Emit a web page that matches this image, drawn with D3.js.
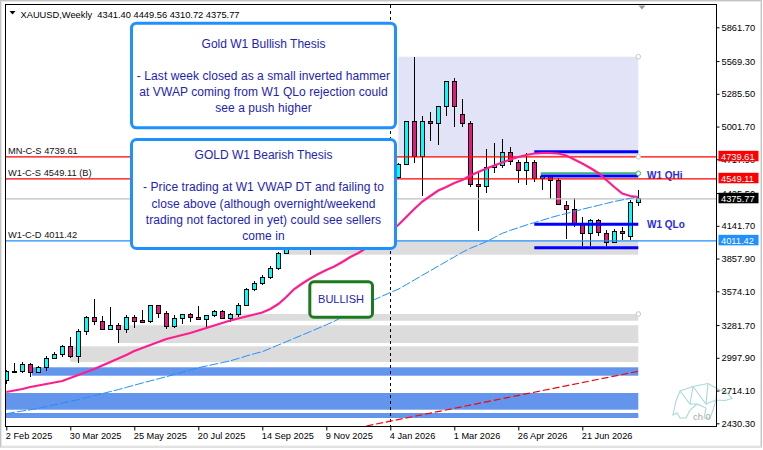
<!DOCTYPE html>
<html><head><meta charset="utf-8">
<script src="https://cdn.jsdelivr.net/npm/d3@7"></script>
<style>
body{margin:0;background:#fff}
svg{display:block}
text{font-family:"Liberation Sans",Arial,sans-serif}
</style>
</head><body>
<svg id="chart" width="763" height="450"></svg>
<script>
// ---------------- DATA ----------------
const symbol = "XAUUSD", period = "Weekly";
const dateLabels = ["2 Feb 2025","30 Mar 2025","25 May 2025","20 Jul 2025","14 Sep 2025","9 Nov 2025","4 Jan 2026","1 Mar 2026","26 Apr 2026","21 Jun 2026"];
const dateTickIdx = [0,8,16,24,32,40,48,56,64,72];
const priceTicks = [5861.70,5569.30,5285.50,5001.70,4717.90,4425.50,4141.70,3857.90,3574.10,3281.70,2997.90,2714.10,2430.30];

const opens  = [2800,2882,2881,2938,2872,2915,2994,3028,3094,3008,3224,3349,3311,3245,3282,3245,3349,3320,3314,3453,3383,3267,3340,3371,3349,3331,3366,3403,3337,3377,3453,3591,3643,3695,3770,3905,4020,4100,4060,4200,4280,4350,4300,4380,4440,4400,4460,4530,4500,4560,4675,5044,4740,5044,5024,5174,5394,5108,5030,4501,4480,4649,4668,4779,4688,4619,4688,4553,4567,4538,4319,4285,4163,4071,4192,4077,4001,4094,4053,4341.40];
const highs  = [2892,2950,2962,2955,2927,3013,3051,3109,3175,3245,3360,3505,3360,3441,3297,3369,3366,3412,3455,3455,3406,3366,3380,3383,3444,3366,3412,3412,3389,3470,3603,3661,3718,3793,3912,4050,4130,4160,4230,4310,4420,4380,4400,4470,4480,4490,4560,4580,4600,4690,5050,5607,5093,5130,5180,5400,5425,5238,5050,4597,4807,4856,4891,4827,4712,4770,4712,4582,4582,4553,4360,4380,4215,4200,4200,4105,4111,4134,4365,4449.56];
const lows   = [2771,2863,2869,2834,2863,2881,2985,3002,2994,2955,3195,3282,3239,3239,3124,3210,3254,3302,3297,3340,3250,3256,3291,3311,3331,3262,3349,3331,3308,3354,3447,3579,3631,3683,3762,3905,3990,4000,3890,4150,4240,4200,4260,4330,4350,4370,4420,4460,4440,4545,4665,4683,4402,4879,4842,5096,5000,5000,4480,4099,4423,4602,4640,4668,4510,4495,4524,4456,4371,4322,4025,4134,3967,3967,4053,3967,3990,4018,4018,4310.72];
const closes = [2878,2879,2938,2872,2915,2993,3028,3094,3008,3224,3345,3311,3245,3282,3245,3349,3314,3316,3453,3380,3267,3340,3371,3349,3331,3366,3403,3337,3377,3455,3591,3643,3695,3770,3903,4020,4100,4060,4200,4280,4350,4300,4380,4440,4400,4460,4530,4500,4560,4675,5044,4740,5044,5024,5174,5394,5174,5030,4501,4484,4649,4668,4779,4697,4619,4688,4553,4567,4532,4322,4285,4157,4071,4192,4082,4001,4090,4071,4342,4375.77];

// moving average (pink) and VWAP (blue dashed)
const maValues = [2701.6,2714.6,2727.6,2744.9,2757.9,2770.9,2783.9,2796.9,2822.9,2848.9,2874.9,2900.9,2931.2,2961.5,2991.8,3022.2,3056.8,3082.8,3108.8,3134.8,3160.8,3178.1,3195.5,3212.8,3234.5,3256.1,3277.8,3299.5,3321.1,3338.5,3355.8,3373.1,3390.4,3420.8,3464.1,3524.8,3594.1,3641.7,3685.0,3724.0,3758.7,3789.0,3828.0,3871.4,3906.0,3949.3,3992.7,4044.6,4096.6,4148.6,4217.9,4287.3,4352.3,4399.9,4447.6,4477.9,4512.5,4538.6,4577.5,4607.9,4638.2,4664.2,4690.2,4716.2,4737.8,4755.2,4768.2,4772.5,4772.5,4768.2,4750.8,4716.2,4681.5,4642.5,4599.2,4538.6,4477.9,4421.6,4399.9,4391.2];
const vwapValues = [2513.5,2525.7,2536.9,2547.3,2560.3,2575.9,2590.7,2605.4,2620.1,2635.7,2653.0,2670.4,2687.7,2705.0,2722.4,2741.4,2760.5,2779.5,2797.7,2815.9,2834.1,2853.2,2873.1,2892.2,2912.1,2926.8,2941.6,2956.3,2971.9,2991.8,3013.5,3033.4,3050.8,3080.2,3108.8,3137.4,3166.9,3195.5,3224.9,3254.4,3283.9,3314.2,3353.2,3392.2,3431.2,3470.2,3501.4,3532.6,3563.8,3592.4,3632.2,3672.1,3712.8,3752.7,3792.5,3832.4,3872.2,3912.1,3946.7,3975.3,4004.0,4040.3,4076.3,4101.8,4125.2,4148.6,4169.4,4190.2,4211.8,4230.9,4248.3,4266.5,4284.7,4302.0,4318.4,4335.8,4352.2,4366.1,4380.0,4393.8];

// horizontal levels
const levelPrices = [4739.61, 4549.11, 4375.77, 4011.42];
const levelNames  = ["MN-C-S 4739.61", "W1-C-S 4549.11 (B)", "", "W1-C-D 4011.42"];

// zones (top price, bottom price, start bar) ending at last bar
const zoneTops    = [5607, 4011.42, 3377.4, 3279.5, 3097.6, 2915.6, 2692.9, 2519.6];
const zoneBottoms = [4739.61, 3891.3, 3319.4, 3126.2, 2961.6, 2842.8, 2548.2, 2476.3];
const zoneStarts  = [49, 34.5, 28.2, 14, 8, 3.2, -1, -1];

// quarterly levels (W1 QHi / QLo)
const qPrices = [4783.8, 4573.2, 4154.7, 3952.0];
const qStarts = [66, 66.8, 66, 66];
const greenLevel = 4596.6, greenStart = 66.8;
const qLabels = [{text:"W1 QHi", price:4573.2},{text:"W1 QLo", price:4154.7}];

// trend line (red dashed)
const trendIdx = [45, 79];
const trendPrices = [2407, 2881];

const separatorIdx = 48;
const lastIdx = 79;

const bullishLines = ["Gold W1 Bullish Thesis", "", "- Last week closed as a small inverted hammer", "at VWAP coming from W1 QLo rejection could", "see a push higher"];
const bearishLines = ["GOLD W1 Bearish Thesis", "", "- Price trading at W1 VWAP DT and failing to", "close above (although overnight/weekend", "trading not factored in yet) could see sellers", "come in"];
const signalText = "BULLISH";

// ---------------- DRAW ----------------
const svg = d3.select("#chart");
const L = 6, R = 716, T = 5, B = 426;
const x = d3.scaleLinear().domain([0, 79]).range([6.3, 638.3]);
const y = d3.scaleLinear().domain([2407.0, 6055.0]).range([B, T]);
const f2 = d3.format(".2f");

// outer window frame
svg.append("rect").attr("x",0.5).attr("y",0.5).attr("width",761).attr("height",446.5)
  .attr("fill","#fff").attr("stroke","#c4c4c4");
svg.append("rect").attr("x",1.5).attr("y",1.5).attr("width",759).attr("height",444.5)
  .attr("fill","none").attr("stroke","#e6e6e6");

svg.append("defs").append("clipPath").attr("id","clip")
  .append("rect").attr("x",L).attr("y",T).attr("width",R-L).attr("height",B-T);
const g = svg.append("g").attr("clip-path","url(#clip)");

// zones
const zoneColors = ["#e3e3f7","#dcdcdc","#dcdcdc","#dcdcdc","#dcdcdc","#6495ed","#6495ed","#6495ed"];
zoneTops.forEach((t,k)=>{
  g.append("rect").attr("x",x(zoneStarts[k])).attr("y",y(t))
   .attr("width",x(lastIdx)-x(zoneStarts[k])).attr("height",y(zoneBottoms[k])-y(t))
   .attr("fill",zoneColors[k]);
});

// period separator
g.append("line").attr("x1",Math.round(x(separatorIdx))+0.5).attr("x2",Math.round(x(separatorIdx))+0.5)
  .attr("y1",T).attr("y2",B).attr("stroke","#000").attr("stroke-dasharray","3,3");

// trend line
g.append("line").attr("x1",x(trendIdx[0])).attr("y1",y(trendPrices[0]))
  .attr("x2",x(trendIdx[1])).attr("y2",y(trendPrices[1]))
  .attr("stroke","#ff0000").attr("stroke-width",1.2).attr("stroke-dasharray","7,3");

// candles
const idx = d3.range(opens.length);
const cg = g.append("g").attr("shape-rendering","crispEdges");
idx.forEach(i=>{
  const cx = Math.round(x(i));
  cg.append("line").attr("x1",cx+0.5).attr("x2",cx+0.5)
    .attr("y1",y(highs[i])).attr("y2",y(lows[i])).attr("stroke","#000");
  const top = y(Math.max(opens[i],closes[i])), bot = y(Math.min(opens[i],closes[i]));
  const bull = closes[i] >= opens[i];
  cg.append("rect").attr("x",cx-1.5).attr("y",top).attr("width",4)
    .attr("height",Math.max(1.5,bot-top))
    .attr("fill", bull ? "#00ffff" : "#e8177f").attr("stroke","#000").attr("stroke-width",1);
});

// W1 QHi / QLo labels (under the level lines)
qLabels.forEach(q=>{
  g.append("text").attr("x",647).attr("y",y(q.price)+3.4).attr("font-size",10)
   .attr("font-weight","bold").attr("fill","#2a2ae6").text(q.text);
});

// horizontal levels
const levelColors = ["#ff0000","#ff0000","#c0c0c0","#1e90ff"];
levelPrices.forEach((p,k)=>{
  g.append("line").attr("x1",L).attr("x2",R).attr("y1",y(p)).attr("y2",y(p))
   .attr("stroke",levelColors[k]).attr("stroke-width",1.2);
  if(levelNames[k]) g.append("text").attr("x",8).attr("y",y(p)-2.5)
   .attr("font-size",9.3).attr("fill","#111").text(levelNames[k]);
});

// green level
g.append("line").attr("x1",x(greenStart)).attr("x2",x(lastIdx))
  .attr("y1",y(greenLevel)).attr("y2",y(greenLevel)).attr("stroke","#3cb371").attr("stroke-width",2);
// quarterly levels
qPrices.forEach((p,k)=>{
  g.append("line").attr("x1",x(qStarts[k])).attr("x2",x(lastIdx))
   .attr("y1",y(p)).attr("y2",y(p)).attr("stroke","#0000ff").attr("stroke-width",3);
});

// MA and VWAP
const line = d3.line().x((d,i)=>x(i)).y(d=>y(d));
g.append("path").datum(vwapValues).attr("d",line).attr("fill","none")
  .attr("stroke","#1e90ff").attr("stroke-width",1).attr("stroke-dasharray","9,2");
g.append("path").datum(maValues).attr("d",line).attr("fill","none")
  .attr("stroke","#ff1d8e").attr("stroke-width",2.2);

// anchor circles
[[zoneTops[0],"#c8c8c8"],[zoneBottoms[0],"#c8c8c8"],[greenLevel,"#3cb371"],[zoneTops[2],"#c8c8c8"]].forEach(([p,c])=>{
  g.append("circle").attr("cx",x(lastIdx)).attr("cy",y(p)).attr("r",2.3)
   .attr("fill","#fff").attr("stroke",c).attr("stroke-width",1);
});

// text boxes
function textBox(x0,y0,w,h,lines,firstBaseline){
  svg.append("rect").attr("x",x0).attr("y",y0).attr("width",w).attr("height",h)
    .attr("rx",5).attr("fill","#fff").attr("stroke","#1e90ff").attr("stroke-width",3);
  lines.forEach((s,k)=>{
    if(!s) return;
    svg.append("text").attr("x",x0+w/2).attr("y",firstBaseline+k*16.2)
      .attr("text-anchor","middle").attr("font-size",12)
      .attr("letter-spacing",k===0?0:0.07)
      .attr("fill","#2323b4").text(s);
  });
}
textBox(131.5,23.2,264,104.6,bullishLines,47.6);
textBox(131.5,139.5,264,109,bearishLines,159);

// BULLISH signal box
svg.append("rect").attr("x",309.8).attr("y",281.8).attr("width",62.7).attr("height",35.4)
  .attr("rx",4).attr("fill","#fff").attr("stroke","#1b7a1b").attr("stroke-width",3);
svg.append("text").attr("x",341).attr("y",303.2).attr("text-anchor","middle")
  .attr("font-size",11).attr("fill","#2323b4").text(signalText);

// watermark bear
svg.append("path")
  .attr("d","M673,415 L676,401 L680,391 L693,386.5 L708,383.5 L717,388.5 L727,393 L732,398.5 L725,400.5 L716,400 L713,410 L710,418 L704,418 L706,408 L697,404 L690,410 L686,418 L680,418 L677,413 Z M680,391 L690,404 L693,386.5 L706,404 L708,383.5 M717,388.5 L716,400 M706,404 L716,400 M690,404 L697,404")
  .attr("fill","none").attr("stroke","#a8d8dc").attr("stroke-width",1.1);
svg.append("text").attr("x",693).attr("y",420).attr("font-size",9.3).attr("fill","#a8a8a8").text("ch 0");

// plot frame
svg.append("path").attr("d",`M${L-0.5},${T-0.5} H${R+0.5} V${B+0.5} H${L-0.5} Z`)
  .attr("fill","none").attr("stroke","#000").attr("stroke-width",1).attr("shape-rendering","crispEdges");

// shift marker
svg.append("path").attr("d","M638.5,5.5 L645.5,5.5 L642,9.5 Z").attr("fill","#999");

// price axis
const ya = svg.append("g").attr("transform",`translate(${R+0.5},0)`)
  .call(d3.axisRight(y).tickValues(priceTicks).tickFormat(f2).tickSize(3).tickPadding(2));
ya.select(".domain").remove();
ya.selectAll("text").attr("font-size",9.3).attr("font-family","Liberation Sans").attr("fill","#000");
ya.selectAll("line").attr("stroke","#000");

// price tags
const tagColors = ["#ff0000","#ff0000","#000000","#1e90ff"];
levelPrices.forEach((p,k)=>{
  svg.append("rect").attr("x",718.5).attr("y",y(p)-6).attr("width",40).attr("height",10.5).attr("fill",tagColors[k]);
  svg.append("text").attr("x",721).attr("y",y(p)).attr("dy","0.33em").attr("font-size",9.3)
    .attr("fill","#fff").text(f2(p));
});

// time axis
const xa = svg.append("g").attr("transform",`translate(0,${B+0.5})`)
  .call(d3.axisBottom(x).tickValues(dateTickIdx).tickFormat((d,i)=>dateLabels[i]).tickSize(4));
xa.select(".domain").remove();
xa.selectAll("text").attr("text-anchor","start").attr("x",-1).attr("y",6)
  .attr("font-size",9.2).attr("font-family","Liberation Sans").attr("fill","#000");
xa.selectAll("line").attr("stroke","#000");

// header
svg.append("path").attr("d","M9.5,11 L15.5,11 L12.5,14.5 Z").attr("fill","#000");
svg.append("text").attr("x",20.5).attr("y",17.5).attr("font-size",9.3).attr("fill","#000")
  .style("white-space","pre")
  .text(`${symbol},${period}  ${f2(opens[lastIdx])} ${f2(highs[lastIdx])} ${f2(lows[lastIdx])} ${f2(closes[lastIdx])}`);
</script>
</body></html>
